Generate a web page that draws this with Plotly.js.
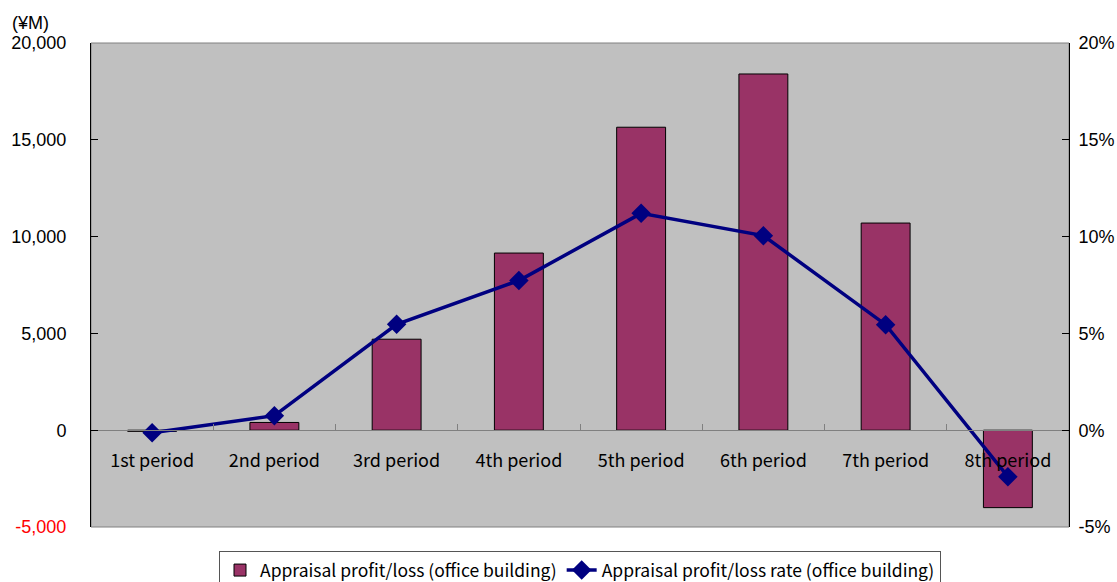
<!DOCTYPE html>
<html>
<head>
<meta charset="utf-8">
<script src="https://cdn.plot.ly/plotly-3.0.1.min.js"></script>
<style>html,body{margin:0;padding:0;background:#fff;}#chart{width:1117px;height:582px;}</style>
</head>
<body>
<div id="chart"></div>
<script>
const categories = ['1st period','2nd period','3rd period','4th period','5th period','6th period','7th period','8th period'];
const profit = [-60, 400, 4700, 9150, 15650, 18400, 10700, -4000];
const rate = [-0.13, 0.75, 5.47, 7.73, 11.2, 10.05, 5.45, -2.4];
const leftTickVals = [-5000, 0, 5000, 10000, 15000, 20000];
const leftTickText = ['<span style="color:#ff0000">-5,000</span>', '0', '5,000', '10,000', '15,000', '20,000'];
const rightTickVals = [-5, 0, 5, 10, 15, 20];
const rightTickText = ['-5%', '0%', '5%', '10%', '15%', '20%'];
const barName = 'Appraisal profit/loss (office building)';
const lineName = 'Appraisal profit/loss rate (office building)';

const numFont = {family: 'Liberation Sans, Arial, sans-serif', size: 18, color: '#000'};
const catFont = {family: 'Noto Sans CJK JP, sans-serif', size: 18, color: '#000'};
const legFont = {family: 'Noto Sans CJK JP, sans-serif', size: 17.5, color: '#000'};

const traces = [
  {
    type: 'bar', x: categories, y: profit, name: barName, yaxis: 'y',
    marker: {color: '#993366', line: {color: '#000', width: 1}}
  },
  {
    type: 'scatter', mode: 'lines+markers', x: categories, y: rate, name: lineName, yaxis: 'y2',
    line: {color: '#000080', width: 3.5},
    marker: {symbol: 'diamond', size: 15, color: '#000080'}
  }
];

const layout = {
  width: 1117, height: 582,
  margin: {l: 91, r: 48, t: 43, b: 55, autoexpand: false},
  paper_bgcolor: '#fff',
  plot_bgcolor: '#c0c0c0',
  bargap: 0.6,
  showlegend: true,
  legend: {
    orientation: 'h', x: 0.5, xanchor: 'center', y: -0.05, yanchor: 'top',
    bgcolor: '#fff', bordercolor: '#555', borderwidth: 1,
    font: legFont, traceorder: 'normal'
  },
  xaxis: {
    type: 'category', anchor: 'free', position: 0.2,
    showline: true, linecolor: '#808080', linewidth: 1,
    ticks: 'inside', tickson: 'boundaries', ticklen: 6, tickcolor: '#808080',
    showgrid: false, zeroline: false,
    tickfont: catFont, ticklabelstandoff: 14
  },
  yaxis: {
    range: [-5000, 20000], tickvals: leftTickVals, ticktext: leftTickText,
    showline: true, linecolor: '#000', linewidth: 1,
    ticks: 'inside', ticklen: 7, tickcolor: '#000',
    showgrid: false, zeroline: false, tickfont: numFont, ticklabelstandoff: 20
  },
  yaxis2: {
    range: [-5, 20], tickvals: rightTickVals, ticktext: rightTickText,
    overlaying: 'y', side: 'right',
    showline: true, linecolor: '#000', linewidth: 1,
    ticks: 'inside', ticklen: 7, tickcolor: '#000',
    showgrid: false, zeroline: false, tickfont: numFont, ticklabelstandoff: 5
  },
  shapes: [
    {type: 'rect', xref: 'paper', yref: 'paper', x0: 0, x1: 1, y0: 0, y1: 1,
     line: {color: '#808080', width: 1}, fillcolor: 'rgba(0,0,0,0)', layer: 'below'}
  ],
  annotations: [
    {text: '(¥M)', xref: 'paper', yref: 'paper', x: -0.083, y: 1.0, xanchor: 'left', yanchor: 'bottom',
     yshift: 8, showarrow: false, font: numFont}
  ]
};

Plotly.newPlot('chart', traces, layout, {displayModeBar: false, responsive: false});
</script>
</body>
</html>
